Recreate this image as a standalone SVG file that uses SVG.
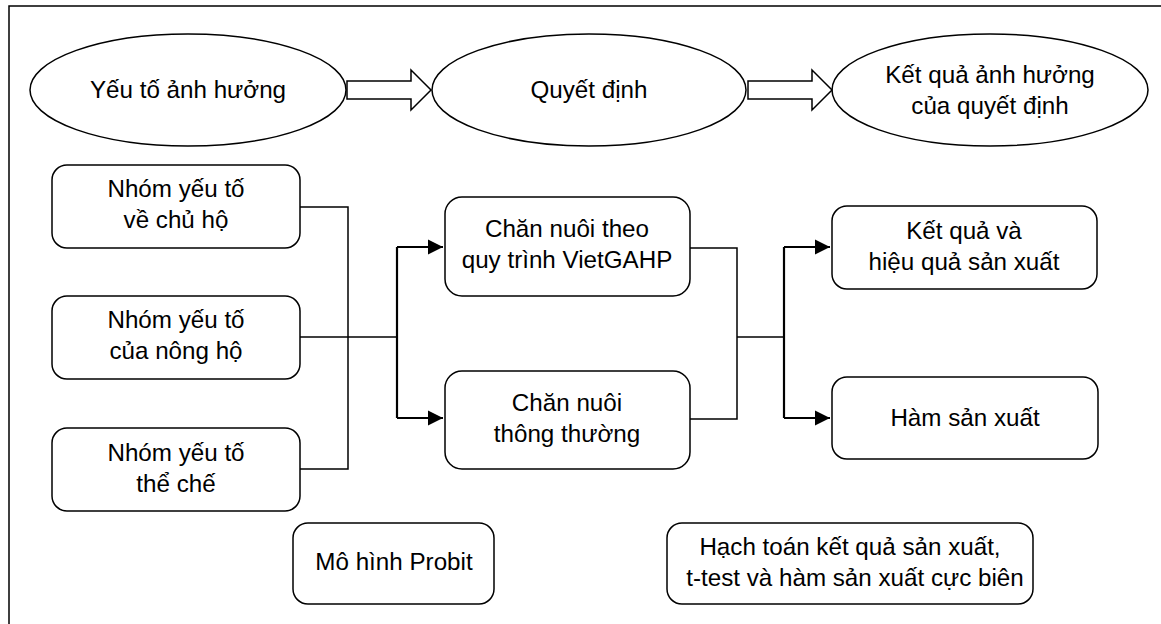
<svg xmlns="http://www.w3.org/2000/svg" width="1161" height="624" viewBox="0 0 1161 624">
<defs>
<style>
.sh{fill:#fff;stroke:#000;stroke-width:1.5}
.t{font-family:"Liberation Sans",Arial,sans-serif;font-size:24.2px;fill:#000;text-anchor:middle}
.c{fill:none;stroke:#000;stroke-width:1.5}
.ca{fill:none;stroke:#000;stroke-width:2.2}
</style>
<marker id="ah" markerWidth="8" markerHeight="8" refX="7" refY="4" orient="auto" markerUnits="strokeWidth">
<path d="M0,0.5 L7,4 L0,7.5 Z" fill="#000"/>
</marker>
</defs>
<rect x="0" y="0" width="1161" height="624" fill="#fff"/>
<rect x="9" y="6" width="1200" height="700" fill="none" stroke="#000" stroke-width="1.5"/>

<g id="e1"><ellipse class="sh" cx="188" cy="90" rx="158" ry="56"/><text class="t" x="188" y="98">Yếu tố ảnh hưởng</text></g>
<g id="e2"><ellipse class="sh" cx="589" cy="90" rx="157" ry="56"/><text class="t" x="589" y="98">Quyết định</text></g>
<g id="e3"><ellipse class="sh" cx="990" cy="90" rx="158" ry="56"/><text class="t" x="990" y="83">Kết quả ảnh hưởng</text><text class="t" x="990" y="114">của quyết định</text></g>

<g id="b1"><rect class="sh" x="52" y="165" width="248" height="83" rx="15"/><text class="t" x="176" y="197">Nhóm yếu tố</text><text class="t" x="176" y="228">về chủ hộ</text></g>
<g id="b2"><rect class="sh" x="52" y="296" width="248" height="83" rx="15"/><text class="t" x="176" y="328">Nhóm yếu tố</text><text class="t" x="176" y="359">của nông hộ</text></g>
<g id="b3"><rect class="sh" x="52" y="428" width="248" height="83" rx="15"/><text class="t" x="176" y="461">Nhóm yếu tố</text><text class="t" x="176" y="492">thể chế</text></g>

<g id="m1"><rect class="sh" x="445" y="197" width="245" height="99" rx="17"/><text class="t" x="567" y="237">Chăn nuôi theo</text><text class="t" x="567" y="268">quy trình VietGAHP</text></g>
<g id="m2"><rect class="sh" x="445" y="371" width="245" height="98" rx="17"/><text class="t" x="567" y="411">Chăn nuôi</text><text class="t" x="567" y="442">thông thường</text></g>

<g id="r1"><rect class="sh" x="832" y="206" width="265" height="83" rx="15"/><text class="t" x="964" y="239">Kết quả và</text><text class="t" x="964" y="270">hiệu quả sản xuất</text></g>
<g id="r2"><rect class="sh" x="832" y="377" width="266" height="82" rx="15"/><text class="t" x="965" y="426">Hàm sản xuất</text></g>

<g id="p1"><rect class="sh" x="293" y="523" width="201" height="81" rx="15"/><text class="t" x="394" y="570">Mô hình Probit</text></g>
<g id="p2"><rect class="sh" x="667" y="523" width="366" height="81" rx="15"/><text class="t" x="850" y="555">Hạch toán kết quả sản xuất,</text><text class="t" x="855" y="586">t-test và hàm sản xuất cực biên</text></g>

<g id="connectors">
<path class="sh" d="M347,81 L411,81 L411,70 L431,90 L411,110 L411,99 L347,99 Z"/>
<path class="sh" d="M748,81 L812,81 L812,70 L832,90 L812,110 L812,99 L748,99 Z"/>
<path class="c" d="M300,207 H348 V469 H300"/>
<path class="c" d="M300,337 H397"/>
<path class="ca" d="M397,247 V418"/>
<path class="ca" d="M397,247 H443" marker-end="url(#ah)"/>
<path class="ca" d="M397,418 H443" marker-end="url(#ah)"/>
<path class="c" d="M690,248 H737 V419 H690"/>
<path class="c" d="M737,337 H784"/>
<path class="ca" d="M784,247 V418"/>
<path class="ca" d="M784,247 H830" marker-end="url(#ah)"/>
<path class="ca" d="M784,418 H830" marker-end="url(#ah)"/>
</g>
</svg>
